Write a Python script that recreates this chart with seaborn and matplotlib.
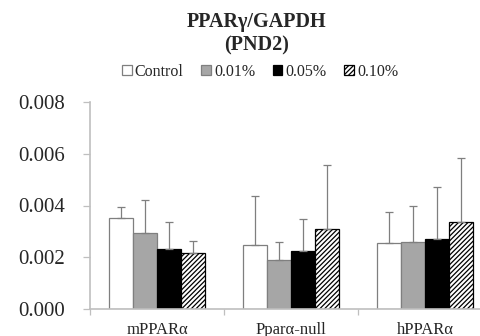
import numpy as np
import pandas as pd
import matplotlib
matplotlib.use("Agg")
import matplotlib.pyplot as plt
import seaborn as sns
from matplotlib.ticker import FixedLocator

# data
groups = ["mPPARα", "Pparα-null", "hPPARα"]
doses = ["Control", "0.01%", "0.05%", "0.10%"]

control = [0.00353, 0.00249, 0.00254]
dose_001 = [0.00295, 0.00191, 0.00260]
dose_005 = [0.00233, 0.00224, 0.00270]
dose_010 = [0.00217, 0.00309, 0.00335]

control_sd = [0.00042, 0.00186, 0.00120]
dose_001_sd = [0.00127, 0.00069, 0.00139]
dose_005_sd = [0.00105, 0.00123, 0.00202]
dose_010_sd = [0.00047, 0.00247, 0.00248]

y_ticks = [0.000, 0.002, 0.004, 0.006, 0.008]

means = [control, dose_001, dose_005, dose_010]
sds = [control_sd, dose_001_sd, dose_005_sd, dose_010_sd]

rows = []
for d, m, s in zip(doses, means, sds):
    for g, v, e in zip(groups, m, s):
        rows.append({"group": g, "dose": d, "value": v, "sd": e})
df = pd.DataFrame(rows)

sns.set_style("white")
plt.rcParams['font.family'] = ['Liberation Serif', 'DejaVu Serif']
plt.rcParams['hatch.linewidth'] = 0.9

fig = plt.figure(figsize=(4.81, 3.36), dpi=100)
ax = fig.add_axes([90 / 481, 27 / 336, 402 / 481, 207 / 336])

fill_colors = ["white", "#a6a6a6", "black", "white"]
edge_colors = ["#7f7f7f", "#7f7f7f", "black", "black"]
hatches = [None, None, None, "///////"]

sns.barplot(data=df, x="group", y="value", hue="dose", order=groups,
            hue_order=doses, palette=fill_colors, width=0.72, gap=0,
            errorbar=None, legend=False, ax=ax)

bar_conts = list(ax.containers)
for i, cont in enumerate(bar_conts):
    for j, patch in enumerate(cont):
        patch.set_facecolor(fill_colors[i])
        patch.set_edgecolor(edge_colors[i])
        patch.set_linewidth(0.9)
        if hatches[i]:
            patch.set_hatch(hatches[i])
        x = patch.get_x() + patch.get_width() / 2
        h = patch.get_height()
        ax.errorbar(x, h, yerr=[[0], [sds[i][j]]], fmt="none",
                    ecolor="#7f7f7f", elinewidth=0.9, capsize=3,
                    capthick=0.9, zorder=1)

ax.set_xlim(-0.5, 2.5)
ax.set_ylim(0, 0.008)
ax.set_yticks(y_ticks)
ax.set_yticklabels([f"{t:.3f}" for t in y_ticks], fontsize=15)
ax.tick_params(axis="y", length=5, color="#bfbfbf", width=0.9, pad=13, left=True)
ax.tick_params(axis="x", which="major", length=0, labelsize=12, pad=9)
ax.xaxis.set_minor_locator(FixedLocator([-0.5, 0.5, 1.5, 2.5]))
ax.tick_params(axis="x", which="minor", length=4, color="#bfbfbf", width=0.9,
               bottom=True)
ax.set_xlabel("")
ax.set_ylabel("")

sns.despine(ax=ax, top=True, right=True)
for side in ["left", "bottom"]:
    ax.spines[side].set_color("#bfbfbf")
    ax.spines[side].set_linewidth(1.2)

handles = [cont[0] for cont in bar_conts]
fig.legend(handles, doses, loc="center", bbox_to_anchor=(260 / 481, 1 - 72 / 336),
           ncol=4, frameon=False, fontsize=11.5, handlelength=0.6,
           handleheight=0.6, handletextpad=0.2, columnspacing=1.1)

fig.text(257 / 481, 1 - 34 / 336, "PPARγ/GAPDH\n(PND2)", ha="center",
         va="center", fontsize=14.5, fontweight="bold", linespacing=1.2)

fig.savefig("out.png", dpi=100)
